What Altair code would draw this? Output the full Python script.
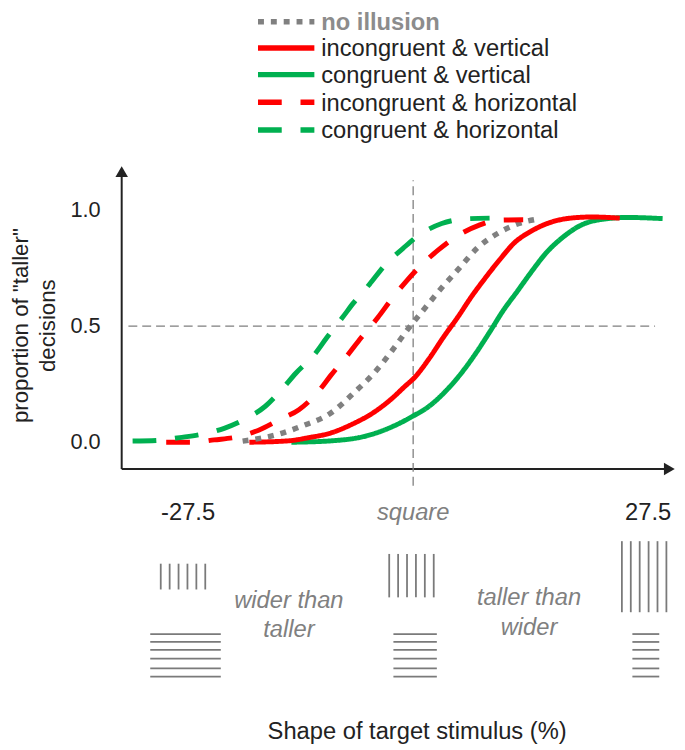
import altair as alt
import pandas as pd

# ---------------- data ----------------
SERIES = ["no illusion", "incongruent & vertical", "congruent & vertical",
          "incongruent & horizontal", "congruent & horizontal"]
COLORS = ["#808080", "#ff0000", "#00b050", "#ff0000", "#00b050"]
DASHES = [[6, 7], [1, 0], [1, 0], [24, 19], [24, 19]]
LEGEND_DASHES = [[6, 7], [1, 0], [1, 0], [21, 6], [21, 6]]

# shape of target stimulus (%) and proportion of "taller" decisions
no_illusion_x = [-20.3, -16.1, -13.2, -9.8, -6.9, -4.6, -2.5, -0.6, 1.3, 3.4, 5.5, 7.6, 10.1, 12.6, 14.7]
no_illusion_y = [0.005, 0.034, 0.07, 0.126, 0.218, 0.30, 0.395, 0.488, 0.573, 0.665, 0.75, 0.835, 0.90, 0.942, 0.96]

incong_vert_x = [-19.5, -14.9, -12.4, -9.8, -7.3, -4.8, -2.7, -1.0, 0.2, 1.9, 3.6, 5.3, 7.0, 8.6, 10.3,
                 12.0, 14.1, 16.2, 18.7, 21.3, 24.6]
incong_vert_y = [0.0, 0.006, 0.02, 0.04, 0.077, 0.126, 0.183, 0.24, 0.28, 0.36, 0.452, 0.538, 0.63, 0.708,
                 0.786, 0.857, 0.91, 0.945, 0.965, 0.97, 0.965]

cong_vert_x = [-14.5, -9.8, -5.6, -2.3, 0.0, 1.9, 4.0, 5.7, 7.4, 9.1, 10.7, 12.4, 14.1, 15.8, 17.9, 20.0,
               22.5, 25.5, 29.7]
cong_vert_y = [0.0, 0.006, 0.027, 0.07, 0.113, 0.155, 0.225, 0.296, 0.38, 0.474, 0.566, 0.65, 0.735, 0.814,
               0.885, 0.935, 0.96, 0.968, 0.963]

incong_horiz_x = [-29.4, -26.2, -23.7, -20.8, -18.4, -15.7, -13.6, -11.3, -9.8, -7.7, -6.2, -4.2, -2.7,
                  -0.8, 0.7, 3.0, 5.1, 7.8, 10.1, 13.1]
incong_horiz_y = [0.0, 0.0, 0.01, 0.024, 0.052, 0.101, 0.14, 0.218, 0.288, 0.38, 0.45, 0.537, 0.61, 0.694,
                  0.753, 0.828, 0.885, 0.934, 0.956, 0.958]

cong_horiz_x = [-33.4, -30.4, -27.8, -25.1, -22.5, -20.0, -17.6, -15.5, -14.0, -11.7, -10.25, -8.4, -7.1,
                -5.2, -3.3, -1.2, 0.7, 3.4, 6.3, 9.1]
cong_horiz_y = [0.005, 0.008, 0.02, 0.035, 0.06, 0.10, 0.155, 0.233, 0.296, 0.38, 0.452, 0.538, 0.60,
                0.68, 0.765, 0.835, 0.892, 0.942, 0.962, 0.965]

Y_TICKS = [0.0, 0.5, 1.0]
Y_TICK_LABELS = ["0.0", "0.5", "1.0"]
X_TICKS = [-27.5, 27.5]
X_TICK_LABELS = ["-27.5", "27.5"]

# stimulus illustrations (shape %)
STIM_CENTERS = [-27.4, -0.2, 27.5]
STIM_VBAR_TOP = [-0.523, -0.481, -0.426]
STIM_VBAR_BOTTOM = [-0.634, -0.668, -0.732]
STIM_HBAR_LEFT = [-31.3, -2.35, 26.1]
STIM_HBAR_RIGHT = [-22.9, 2.82, 29.3]
HBAR_ROWS = [-0.826, -0.860, -0.894, -0.932, -0.974, -1.009]
N_VBARS = 6
VBAR_STEP = 1.06

# ---------------- build frames ----------------
curve_x = [no_illusion_x, incong_vert_x, cong_vert_x, incong_horiz_x, cong_horiz_x]
curve_y = [no_illusion_y, incong_vert_y, cong_vert_y, incong_horiz_y, cong_horiz_y]
rows = []
for s, xs_, ys_ in zip(SERIES, curve_x, curve_y):
    for i, (a, b) in enumerate(zip(xs_, ys_)):
        rows.append({"series": s, "x": a, "y": b, "i": i})
curves = pd.DataFrame(rows)

W, H = 677, 742
xs = alt.Scale(domain=[-48.235, 31.412], nice=False, zero=False)
ys = alt.Scale(domain=[-1.3064, 1.8511], nice=False, zero=False)
color_scale = alt.Scale(domain=SERIES, range=COLORS)
dash_scale = alt.Scale(domain=SERIES, range=DASHES)
legend_dash_scale = alt.Scale(domain=SERIES, range=LEGEND_DASHES)

X = lambda f="x": alt.X(f"{f}:Q", scale=xs, axis=None)
Y = lambda f="y": alt.Y(f"{f}:Q", scale=ys, axis=None)

INK = "#222222"
GRAY = "#808080"
FONT = "Liberation Sans"

layers = []

# axes lines
axes_df = pd.DataFrame([
    {"x": -34.7, "x2": -34.7, "y": -0.115, "y2": 1.155},
    {"x": -34.7, "x2": 30.2, "y": -0.115, "y2": -0.115},
])
layers.append(alt.Chart(axes_df).mark_rule(color=INK, strokeWidth=2).encode(
    x=X(), x2="x2:Q", y=Y(), y2="y2:Q"))
arrows_df = pd.DataFrame([
    {"x": -34.7, "y": 1.165, "shape": "triangle-up"},
    {"x": 30.5, "y": -0.115, "shape": "triangle-right"},
])
layers.append(alt.Chart(arrows_df).mark_point(filled=True, color=INK, size=160, opacity=1).encode(
    x=X(), y=Y(), shape=alt.Shape("shape:N", scale=None, legend=None)))

# reference dashed lines
ref_df = pd.DataFrame([
    {"x": -33.9, "x2": 28.8, "y": 0.5, "y2": 0.5},
    {"x": 0.0, "x2": 0.0, "y": -0.187, "y2": 1.128},
])
layers.append(alt.Chart(ref_df).mark_rule(color="#7f7f7f", strokeWidth=1.3, strokeDash=[9, 5]).encode(
    x=X(), x2="x2:Q", y=Y(), y2="y2:Q"))

# curves, drawn in reference z-order
for s in ["congruent & vertical", "incongruent & vertical", "no illusion",
          "incongruent & horizontal", "congruent & horizontal"]:
    layers.append(
        alt.Chart(curves).transform_filter(alt.datum.series == s).mark_line(
            strokeWidth=5.5 if s == "no illusion" else 5, interpolate="monotone", strokeCap="butt"
        ).encode(
            x=X(), y=Y(), order="i:Q",
            color=alt.Color("series:N", scale=color_scale, legend=None),
            strokeDash=alt.StrokeDash("series:N", scale=dash_scale, legend=None),
        )
    )

# manual legend
LEG_Y = [1.8106, 1.6979, 1.5830, 1.4638, 1.3447]
LEG_TEXT_Y = [1.7745, 1.6617, 1.5468, 1.4277, 1.3085]
leg_df = pd.DataFrame({"series": SERIES, "y": LEG_Y, "x": [-18.47] * 5, "x2": [-11.76] * 5,
                       "ty": LEG_TEXT_Y, "tx": [-10.94] * 5})
layers.append(alt.Chart(leg_df).mark_rule(strokeWidth=5.5, strokeCap="butt").encode(
    x=X(), x2="x2:Q", y=Y(),
    color=alt.Color("series:N", scale=color_scale, legend=None),
    strokeDash=alt.StrokeDash("series:N", scale=legend_dash_scale, legend=None)))
layers.append(alt.Chart(leg_df.iloc[:1]).mark_text(
    align="left", baseline="alphabetic", font=FONT, fontSize=24, fontWeight="bold", color="#8c8c8c"
).encode(x=X("tx"), y=Y("ty"), text="series:N"))
layers.append(alt.Chart(leg_df.iloc[1:]).mark_text(
    align="left", baseline="alphabetic", font=FONT, fontSize=24, color=INK
).encode(x=X("tx"), y=Y("ty"), text="series:N"))

# y tick labels
yt_df = pd.DataFrame({"x": [-37.2] * 3, "y": Y_TICKS, "text": Y_TICK_LABELS})
layers.append(alt.Chart(yt_df).mark_text(align="right", baseline="middle", font=FONT, fontSize=22,
                                         color=INK).encode(x=X(), y=Y(), text="text:N"))

# y title (two lines, rotated)
yl_df = pd.DataFrame({"x": [-45.82, -42.59], "y": [0.502, 0.502],
                      "text": ['proportion of "taller"', "decisions"]})
layers.append(alt.Chart(yl_df).mark_text(angle=270, align="center", baseline="alphabetic", font=FONT,
                                         fontSize=22.5, color=INK).encode(x=X(), y=Y(), text="text:N"))

# x tick labels
xt_df = pd.DataFrame({"x": X_TICKS, "y": [-0.336, -0.336], "text": X_TICK_LABELS})
layers.append(alt.Chart(xt_df.iloc[:1]).mark_text(align="center", baseline="alphabetic", font=FONT,
                                                  fontSize=24, color=INK, dx=6).encode(x=X(), y=Y(), text="text:N"))
layers.append(alt.Chart(xt_df.iloc[1:]).mark_text(align="center", baseline="alphabetic", font=FONT,
                                                  fontSize=24, color=INK, dx=4).encode(x=X(), y=Y(), text="text:N"))

# italic descriptive labels
it_df = pd.DataFrame({
    "x": [0.0, -14.8, -14.8, 13.8, 13.8],
    "y": [-0.336, -0.715, -0.838, -0.702, -0.830],
    "text": ["square", "wider than", "taller", "taller than", "wider"],
})
layers.append(alt.Chart(it_df).mark_text(align="center", baseline="alphabetic", font=FONT, fontSize=24,
                                         fontStyle="italic", color=GRAY).encode(x=X(), y=Y(), text="text:N"))

# x title
xl_df = pd.DataFrame({"x": [0.47], "y": [-1.277], "text": ["Shape of target stimulus (%)"]})
layers.append(alt.Chart(xl_df).mark_text(align="center", baseline="alphabetic", font=FONT, fontSize=24,
                                         color=INK).encode(x=X(), y=Y(), text="text:N"))

# stimulus illustrations
vrows, hrows = [], []
for k, c in enumerate(STIM_CENTERS):
    for j in range(N_VBARS):
        vrows.append({"x": c + (j - (N_VBARS - 1) / 2) * VBAR_STEP, "y": STIM_VBAR_TOP[k],
                      "y2": STIM_VBAR_BOTTOM[k]})
    for r in HBAR_ROWS:
        hrows.append({"x": STIM_HBAR_LEFT[k], "x2": STIM_HBAR_RIGHT[k], "y": r})
layers.append(alt.Chart(pd.DataFrame(vrows)).mark_rule(color="#7a7a7a", strokeWidth=1.8).encode(
    x=X(), y=Y(), y2="y2:Q"))
layers.append(alt.Chart(pd.DataFrame(hrows)).mark_rule(color="#7a7a7a", strokeWidth=1.8).encode(
    x=X(), x2="x2:Q", y=Y()))

chart = alt.layer(*layers).properties(
    width=W, height=H, padding=0, autosize=alt.AutoSizeParams(type="none"), background="white"
).configure_view(stroke=None)

chart.save("out.html", embed_options={"renderer": "svg", "actions": False})
